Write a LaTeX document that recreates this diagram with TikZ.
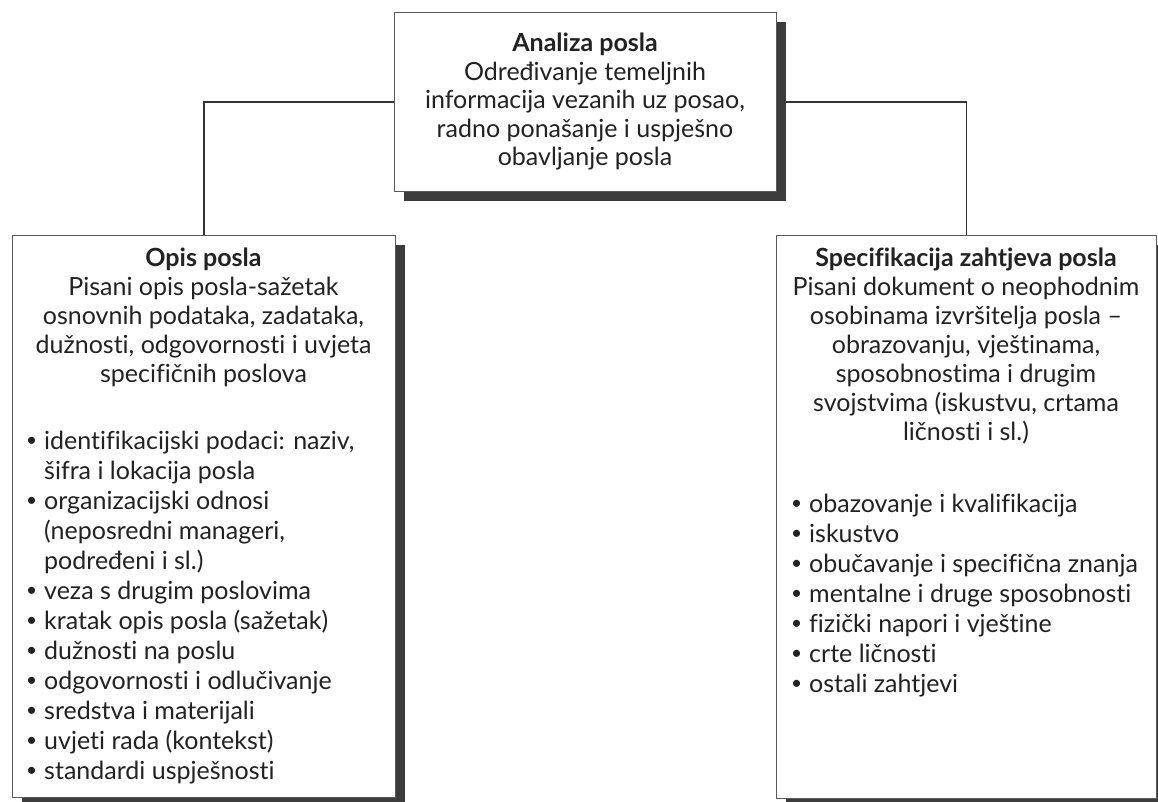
\documentclass[tikz,border=0pt]{standalone}
\usepackage{fontspec}
\setmainfont{Lato}[Ligatures=NoCommon]
\usetikzlibrary{shadows,backgrounds}
\definecolor{ink}{HTML}{222222}
\definecolor{edge}{HTML}{5A5A5A}
\definecolor{shade}{HTML}{3C3C3C}
\definecolor{conncol}{HTML}{333333}
\begin{document}
\begin{tikzpicture}[x=1pt,y=-1pt,
  box/.style={draw=edge, line width=1.1pt, fill=white, rectangle, anchor=north west, inner sep=0pt,
    drop shadow={shadow xshift=9pt, shadow yshift=-9pt, fill=shade, opacity=1}},
  conn/.style={draw=conncol, line width=1.8pt},
  txt/.style={font=\fontsize{25}{29}\selectfont, text=ink, inner sep=0pt},
  ctr/.style={txt, anchor=base},
  lft/.style={txt, anchor=base west},
  bul/.style={anchor=base west, inner sep=0pt, text=ink, font=\fontsize{19}{29}\selectfont},
  ttl/.style={txt, anchor=base, font=\fontsize{25}{29}\selectfont\bfseries}
]
\useasboundingbox (0,0) rectangle (1158,801);

% boxes
\node[box, minimum width=382pt, minimum height=179pt] (top) at (394,12) {};
\node[box, minimum width=383pt, minimum height=562pt] (left) at (12,235) {};
\node[box, minimum width=380pt, minimum height=563pt] (right) at (776,235) {};

% connectors
\begin{scope}[on background layer]
  \draw[conn] (top.west) -| (left.north);
  \draw[conn] (top.east) -| (right.north);
\end{scope}

% top box text
\node[ttl] (ta) at (585,51) {Analiza posla};
\foreach \y/\t [count=\i] in {80/{Određivanje temeljnih}, 108/{informacija vezanih uz posao,},
  137/{radno ponašanje i uspješno}, 165/{obavljanje posla}}
  \node[ctr, name=T\i] at (585,\y) {\t};

% left box heading
\node[ttl] (la) at (203.5,266) {Opis posla};
\foreach \y/\t [count=\i] in {295/{Pisani opis posla-sažetak}, 324/{osnovnih podataka, zadataka,},
  353/{dužnosti, odgovornosti i uvjeta}, 382/{specifičnih poslova}}
  \node[ctr, name=LH\i] at (203.5,\y) {\t};

% left list
\foreach \y/\b/\t [count=\i] in {
  449/1/{identifikacijski podaci: naziv,}, 479/0/{šifra i lokacija posla},
  509/1/{organizacijski odnosi}, 539/0/{(neposredni manageri,}, 569/0/{podređeni i sl.)},
  599/1/{veza s drugim poslovima}, 629/1/{kratak opis posla (sažetak)},
  659/1/{dužnosti na poslu}, 689/1/{odgovornosti i odlučivanje},
  719/1/{sredstva i materijali}, 749/1/{uvjeti rada (kontekst)},
  779/1/{standardi uspješnosti}}{
  \node[lft, name=LI\i] at (44,\y) {\t};
  \ifnum\b=1 \node[bul, name=LB\i] at (26,\y-3) {•}; \fi
}

% right box heading
\node[ttl] (ra) at (966,266) {Specifikacija zahtjeva posla};
\foreach \y/\t [count=\i] in {295/{Pisani dokument o neophodnim}, 324/{osobinama izvršitelja posla –},
  353/{obrazovanju, vještinama,}, 382/{sposobnostima i drugim},
  411/{svojstvima (iskustvu, crtama}, 440/{ličnosti i sl.)}}
  \node[ctr, name=RH\i] at (966,\y) {\t};

% right list
\foreach \y/\t [count=\i] in {
  512/{obazovanje i kvalifikacija}, 542/{iskustvo}, 572/{obučavanje i specifična znanja},
  602/{mentalne i druge sposobnosti}, 632/{fizički napori i vještine},
  662/{crte ličnosti}, 692/{ostali zahtjevi}}{
  \node[lft, name=RI\i] at (809,\y) {\t};
  \node[bul, name=RB\i] at (791,\y-3) {•};
}
\end{tikzpicture}
\end{document}
